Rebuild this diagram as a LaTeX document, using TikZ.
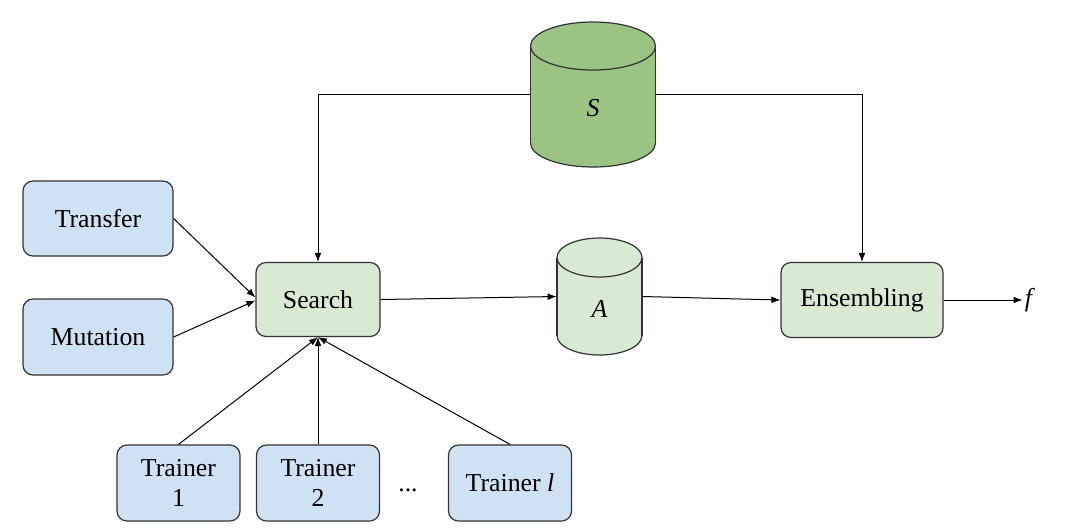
\documentclass[tikz,border=0pt]{standalone}
\usepackage{fontspec}
\setmainfont{Liberation Serif}
\newfontfamily\tnr{Liberation Serif}
\usetikzlibrary{arrows.meta}
\definecolor{boxblue}{HTML}{CFE2F3}
\definecolor{boxgreen}{HTML}{D9EAD3}
\definecolor{dbgreen}{HTML}{9BC384}
\definecolor{edge}{HTML}{333333}
\tikzset{
  base/.style={draw=edge, line width=0.6pt, rounded corners=5pt, align=center,
    font=\tnr\fontsize{12.9}{15}\selectfont, inner sep=2pt},
  bluebox/.style={base, fill=boxblue},
  greenbox/.style={base, fill=boxgreen},
  arr/.style={draw=black, line width=0.5pt, -{Latex[length=4.5pt,width=3.4pt]}},
  lbl/.style={font=\tnr\fontsize{12.9}{15}\selectfont, inner sep=1pt},
  cylholder/.style={inner sep=0pt, draw=none}
}
% cylinder: #1 cx, #2 top, #3 bottom, #4 rx, #5 ry, #6 fill
\newcommand{\mycyl}[6]{%
  \pgfmathsetmacro{\tc}{#2+#5}\pgfmathsetmacro{\bc}{#3-#5}%
  \fill[#6] (#1,\bc) ellipse [x radius=#4, y radius=#5];
  \fill[#6] (#1-#4,\tc) rectangle (#1+#4,\bc);
  \begin{scope}
    \clip (#1-#4-5,\bc) rectangle (#1+#4+5,#3+5);
    \draw[edge, line width=0.6pt] (#1,\bc) ellipse [x radius=#4, y radius=#5];
  \end{scope}
  \draw[edge, line width=0.6pt] (#1-#4,\tc) -- (#1-#4,\bc);
  \draw[edge, line width=0.6pt] (#1+#4,\tc) -- (#1+#4,\bc);
  \filldraw[fill=#6, draw=edge, line width=0.6pt] (#1,\tc) ellipse [x radius=#4, y radius=#5];
}
\begin{document}
\begin{tikzpicture}[x=0.5pt,y=-0.5pt]
\useasboundingbox (0,0) rectangle (1080,527);

% cylinders
\mycyl{593}{22}{167}{62.5}{24}{dbgreen}
\mycyl{599.5}{238}{355}{42.5}{19.5}{boxgreen}
\node[cylholder, minimum width=62.5pt, minimum height=72.5pt] (S) at (593,94.5) {};
\node[lbl] (Slbl) at (593,108) {\textit{S}};
\node[cylholder, minimum width=42.5pt, minimum height=58.5pt] (A) at (599.5,296.5) {};
\node[lbl] (Albl) at (599.5,309) {\textit{A}};

% boxes
\node[bluebox, minimum width=75pt, minimum height=37.5pt] (Transfer) at (98,218.5) {Transfer};
\node[bluebox, minimum width=75pt, minimum height=38pt] (Mutation) at (98,337) {Mutation};
\node[greenbox, minimum width=62pt, minimum height=37pt] (Search) at (318,299.5) {Search};
\node[greenbox, minimum width=81pt, minimum height=37.5pt] (Ens) at (862,300) {Ensembling};
\node[bluebox, minimum width=61.5pt, minimum height=38pt] (T1) at (178.5,483) {Trainer\\1};
\node[bluebox, minimum width=61.5pt, minimum height=38pt] (T2) at (318,483) {Trainer\\2};
\node[bluebox, minimum width=61.5pt, minimum height=38pt] (Tl) at (510,483) {Trainer \textit{l}};
\node[lbl] (dots) at (408,490) {...};
\node[lbl] (f) at (1030,300) {\textit{f}};

% connectors
\draw[arr] (S.west) -| (Search.north);
\draw[arr] (S.east) -| (Ens.north);
\draw[arr] (Transfer.east) -- ([yshift=1pt]Search.west);
\draw[arr] (Mutation.east) -- ([yshift=-0.5pt]Search.west);
\draw[arr] (Search.east) -- (A.west);
\draw[arr] (A.east) -- (Ens.west);
\draw[arr] (Ens.east) -- (Ens.east -| f.west);
\draw[arr] (T1.north) -- (Search.south);
\draw[arr] (T2.north) -- (Search.south);
\draw[arr] (Tl.north) -- (Search.south);
\end{tikzpicture}
\end{document}
